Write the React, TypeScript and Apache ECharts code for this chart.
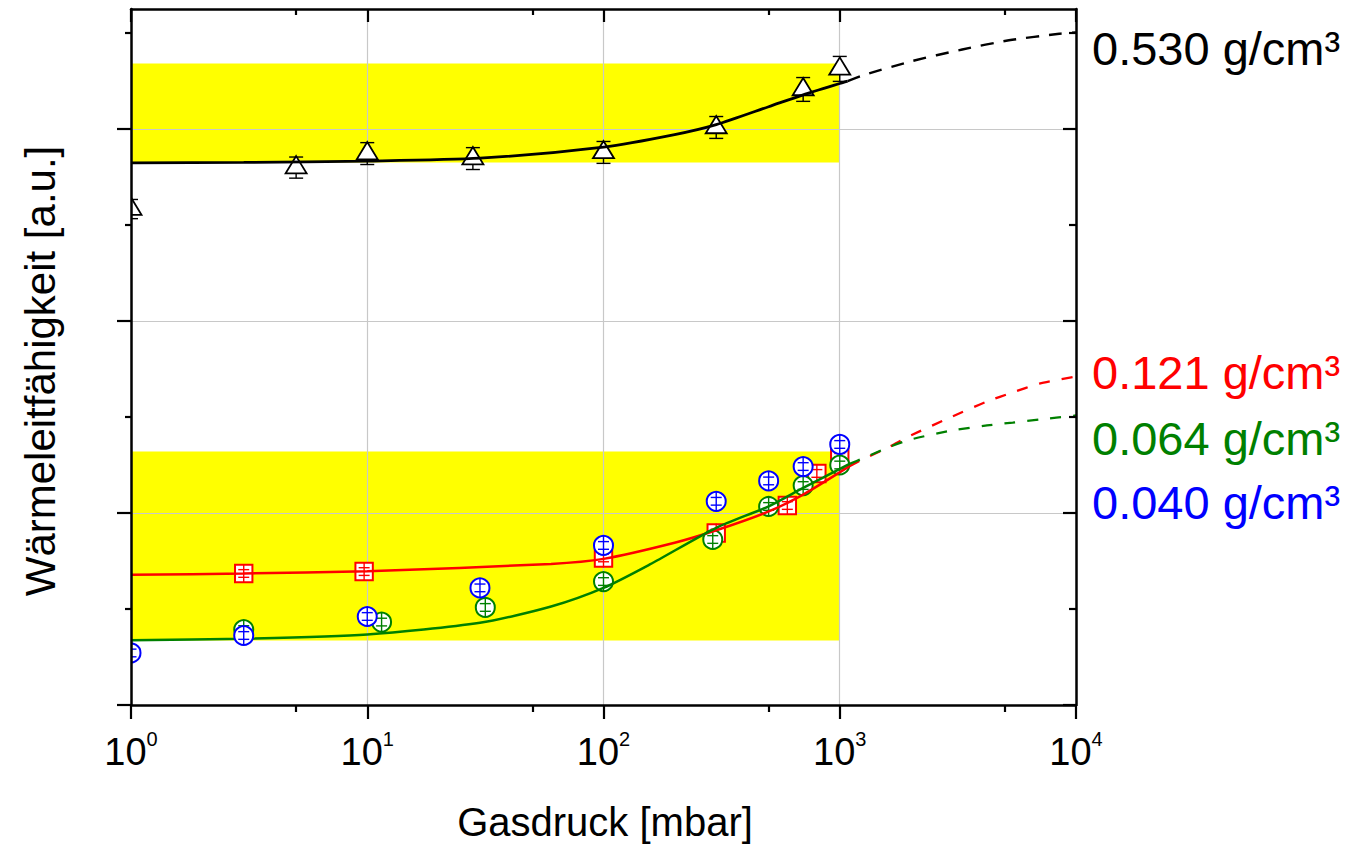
import React, { useEffect, useRef } from "react";
import * as echarts from "echarts";

const FONT = '"Liberation Sans", Arial, Helvetica, sans-serif';

// Measured thermal conductivity [a.u.] versus gas pressure [mbar], per density
const p530 = [1, 5, 10, 28, 100, 300, 700, 1000];
const k530 = [2.583, 2.799, 2.872, 2.846, 2.878, 3.008, 3.206, 3.313];
const e530 = [0.05, 0.055, 0.057, 0.057, 0.057, 0.057, 0.062, 0.065];

const p121 = [3, 9.7, 100, 300, 600, 800, 1000];
const k121 = [0.685, 0.695, 0.766, 0.896, 1.039, 1.206, 1.29];
const e121 = [0.02, 0.02, 0.02, 0.02, 0.02, 0.02, 0.02];

const p064 = [3, 11.5, 31.6, 100, 290, 500, 700, 1000];
const k064 = [0.393, 0.432, 0.508, 0.643, 0.862, 1.034, 1.143, 1.25];
const e064 = [0.02, 0.02, 0.02, 0.02, 0.02, 0.02, 0.02, 0.02];

const p040 = [1, 3, 10, 30, 100, 300, 500, 700, 1000];
const k040 = [0.271, 0.362, 0.461, 0.61, 0.831, 1.061, 1.167, 1.242, 1.357];
const e040 = [0.02, 0.02, 0.02, 0.02, 0.02, 0.02, 0.02, 0.02, 0.02];

// Fitted model curves (solid: measured range, dashed: extrapolation)
const fit530P = [1, 3, 10, 30, 100, 200, 300, 500, 700, 1000, 1080];
const fit530K = [2.824, 2.826, 2.833, 2.848, 2.906, 2.971, 3.023, 3.116, 3.178, 3.237, 3.249];
const ext530P = [1080, 1250, 2000, 3300, 5200, 8500, 10000];
const ext530K = [3.249, 3.279, 3.352, 3.414, 3.462, 3.496, 3.503];

const fit121P = [1, 3, 10, 60, 100, 200, 300, 500, 700, 1100];
const fit121K = [0.678, 0.685, 0.697, 0.735, 0.761, 0.845, 0.91, 1.008, 1.096, 1.244];
const ext121P = [1100, 1250, 1600, 2000, 3000, 4200, 5400, 7000, 10000];
const ext121K = [1.244, 1.279, 1.341, 1.404, 1.503, 1.581, 1.628, 1.674, 1.711];

const fit064P = [1, 3, 10, 30, 60, 100, 157, 300, 500, 700, 1100];
const fit064K = [0.3375, 0.345, 0.367, 0.428, 0.513, 0.61, 0.732, 0.923, 1.035, 1.131, 1.256];
const ext064P = [1100, 1250, 1600, 2000, 3000, 4200, 5400, 7000, 10000];
const ext064K = [1.256, 1.284, 1.341, 1.383, 1.43, 1.456, 1.471, 1.487, 1.508];

// Highlighted ranges between vacuum and 1 bar
const bandP = [1, 1000];
const band530 = [2.826, 3.341];
const bandLow = [0.336, 1.32];

// Axis extents and tick positions
const xMin = 1;
const xMax = 10000;
const xMinorTicks = [5, 50, 500, 5000];
const yMin = 0;
const yMax = 3.625;
const yMajorTicks = [0, 1, 2, 3];
const yMinorTicks = [0.5, 1.5, 2.5, 3.5];

const densityLabels = ["0.530 g/cm³", "0.121 g/cm³", "0.064 g/cm³", "0.040 g/cm³"];
const densityColors = ["#000000", "#ff0000", "#008000", "#0000ff"];
const densityLabelY = [48, 372, 438, 502];

const zip = (xs: number[], ys: number[]) => xs.map((x, i) => [x, ys[i]]);

type Shape = "triangle" | "square" | "circle";

function markerSeries(
  name: string,
  ps: number[],
  ks: number[],
  es: number[],
  color: string,
  shape: Shape,
  z: number
) {
  return {
    type: "custom",
    name,
    z,
    clip: true,
    silent: true,
    xAxisIndex: 0,
    yAxisIndex: 0,
    encode: { x: 0, y: 1 },
    data: ps.map((p, i) => [p, ks[i], es[i]]),
    renderItem: (_params: any, api: any) => {
      const x = api.value(0);
      const y = api.value(1);
      const e = api.value(2);
      const c = api.coord([x, y]);
      const top = api.coord([x, y + e]);
      const bot = api.coord([x, y - e]);
      const barStyle = { stroke: color, lineWidth: 1.4 };
      const children: any[] = [];
      if (shape === "triangle") {
        const cw = 7;
        children.push(
          { type: "line", shape: { x1: c[0], y1: top[1], x2: c[0], y2: bot[1] }, style: barStyle },
          { type: "line", shape: { x1: c[0] - cw, y1: top[1], x2: c[0] + cw, y2: top[1] }, style: barStyle },
          { type: "line", shape: { x1: c[0] - cw, y1: bot[1], x2: c[0] + cw, y2: bot[1] }, style: barStyle },
          {
            type: "polygon",
            shape: {
              points: [
                [c[0], c[1] - 11.5],
                [c[0] + 10.5, c[1] + 5.8],
                [c[0] - 10.5, c[1] + 5.8],
              ],
            },
            style: { fill: "#ffffff", stroke: color, lineWidth: 1.8 },
          }
        );
      } else {
        const r = 9.5;
        if (shape === "circle") {
          children.push({
            type: "circle",
            shape: { cx: c[0], cy: c[1], r },
            style: { fill: "#ffffff", stroke: color, lineWidth: 2 },
          });
        } else {
          children.push({
            type: "rect",
            shape: { x: c[0] - 8.7, y: c[1] - 8.7, width: 17.4, height: 17.4 },
            style: { fill: "#ffffff", stroke: color, lineWidth: 2 },
          });
        }
        const cw = 5.5;
        children.push(
          { type: "line", shape: { x1: c[0], y1: c[1] - r, x2: c[0], y2: c[1] + r }, style: barStyle },
          { type: "line", shape: { x1: c[0] - cw, y1: top[1], x2: c[0] + cw, y2: top[1] }, style: barStyle },
          { type: "line", shape: { x1: c[0] - cw, y1: bot[1], x2: c[0] + cw, y2: bot[1] }, style: barStyle }
        );
      }
      return { type: "group", children };
    },
  };
}

function curve(ps: number[], ks: number[], color: string, width: number, dashed: boolean, dash: number[]) {
  return {
    type: "line",
    xAxisIndex: 0,
    yAxisIndex: 0,
    data: zip(ps, ks),
    showSymbol: false,
    symbol: "none",
    smooth: 0.25,
    silent: true,
    z: 4,
    lineStyle: { color, width, type: dashed ? dash : "solid", cap: "butt" },
  };
}

const frameLine = { show: true, onZero: false, lineStyle: { color: "#000", width: 2.5 } };
const noLine = { show: false, onZero: false };

function xAux(position: "top" | "bottom", inside: boolean, length: number, showLine: boolean, custom?: number[]) {
  return {
    type: "log",
    logBase: 10,
    min: xMin,
    max: xMax,
    position,
    z: 10,
    axisLine: showLine ? frameLine : noLine,
    axisTick: {
      show: true,
      inside,
      length,
      lineStyle: { color: "#000", width: 2.2 },
      ...(custom ? { customValues: custom } : {}),
    },
    axisLabel: { show: false },
    splitLine: { show: false },
  };
}

function yAux(position: "left" | "right", inside: boolean, length: number, showLine: boolean, custom: number[]) {
  return {
    type: "value",
    min: yMin,
    max: yMax,
    interval: 1,
    position,
    z: 10,
    axisLine: showLine ? frameLine : noLine,
    axisTick: { show: true, inside, length, lineStyle: { color: "#000", width: 2.2 }, customValues: custom },
    axisLabel: { show: false },
    splitLine: { show: false },
  };
}

export default function App() {
  const ref = useRef<HTMLDivElement>(null);

  useEffect(() => {
    if (!ref.current) return;
    const chart = echarts.init(ref.current, undefined, { renderer: "svg" });

    const option: any = {
      animation: false,
      backgroundColor: "#ffffff",
      grid: { left: 131, right: 279, top: 9, bottom: 141, outerBoundsMode: "none" },
      xAxis: [
        {
          type: "log",
          logBase: 10,
          min: xMin,
          max: xMax,
          position: "bottom",
          z: 0,
          axisLine: noLine,
          axisTick: { show: false },
          splitLine: { show: true, lineStyle: { color: "#c8c8c8", width: 1.2 } },
          axisLabel: {
            show: true,
            margin: 24,
            formatter: (v: number) => `{b|10}{s|${Math.round(Math.log10(v))}}`,
            rich: {
              b: { fontFamily: FONT, fontSize: 38, lineHeight: 38, color: "#000", padding: [7, 0, 0, 0] },
              s: { fontFamily: FONT, fontSize: 20, lineHeight: 20, color: "#000", verticalAlign: "top" },
            },
          },
        },
        xAux("bottom", false, 14, true),
        xAux("bottom", false, 7, false, xMinorTicks),
        xAux("top", true, 13, true),
        xAux("top", true, 6, false, xMinorTicks),
      ],
      yAxis: [
        {
          type: "value",
          min: yMin,
          max: yMax,
          interval: 1,
          position: "left",
          z: 0,
          axisLine: noLine,
          axisTick: { show: false },
          axisLabel: { show: false },
          splitLine: { show: true, lineStyle: { color: "#c8c8c8", width: 1.2 } },
        },
        yAux("left", false, 14, true, yMajorTicks),
        yAux("left", false, 6, false, yMinorTicks),
        yAux("right", true, 13, true, yMajorTicks),
        yAux("right", true, 7, false, yMinorTicks),
      ],
      series: [
        {
          type: "custom",
          name: "Bereich",
          z: -1,
          silent: true,
          clip: true,
          xAxisIndex: 0,
          yAxisIndex: 0,
          encode: { x: [0, 1], y: [2, 3] },
          data: [
            [bandP[0], bandP[1], bandLow[0], bandLow[1]],
            [bandP[0], bandP[1], band530[0], band530[1]],
          ],
          renderItem: (_params: any, api: any) => {
            const a = api.coord([api.value(0), api.value(3)]);
            const b = api.coord([api.value(1), api.value(2)]);
            return {
              type: "rect",
              shape: { x: a[0], y: a[1], width: b[0] - a[0], height: b[1] - a[1] },
              style: { fill: "#ffff00" },
            };
          },
        },
        markerSeries("0.121 g/cm³", p121, k121, e121, "#ff0000", "square", 2),
        markerSeries("0.064 g/cm³", p064, k064, e064, "#008000", "circle", 3),
        markerSeries("0.530 g/cm³", p530, k530, e530, "#000000", "triangle", 3),
        curve(fit530P, fit530K, "#000000", 2.8, false, []),
        curve(ext530P, ext530K, "#000000", 2.4, true, [13, 10]),
        curve(fit121P, fit121K, "#ff0000", 2.5, false, []),
        curve(ext121P, ext121K, "#ff0000", 2.3, true, [11, 12]),
        curve(fit064P, fit064K, "#008000", 2.5, false, []),
        curve(ext064P, ext064K, "#008000", 2.3, true, [11, 12]),
        markerSeries("0.040 g/cm³", p040, k040, e040, "#0000ff", "circle", 5),
      ],
      graphic: [
        {
          type: "text",
          x: 605,
          y: 822,
          silent: true,
          style: {
            text: "Gasdruck [mbar]",
            fontFamily: FONT,
            fontSize: 40,
            fill: "#000",
            align: "center",
            verticalAlign: "middle",
          },
        },
        {
          type: "text",
          x: 40,
          y: 371,
          rotation: Math.PI / 2,
          silent: true,
          style: {
            text: "Wärmeleitfähigkeit [a.u.]",
            fontFamily: FONT,
            fontSize: 42,
            fill: "#000",
            align: "center",
            verticalAlign: "middle",
          },
        },
        ...densityLabels.map((t, i) => ({
          type: "text",
          x: 1092,
          y: densityLabelY[i],
          silent: true,
          style: {
            text: t,
            fontFamily: FONT,
            fontSize: 47,
            fill: densityColors[i],
            align: "left",
            verticalAlign: "middle",
          },
        })),
      ],
    };

    chart.setOption(option);
    return () => chart.dispose();
  }, []);

  return (
    <div
      ref={ref}
      style={{ position: "absolute", left: 0, top: 0, width: 1355, height: 846, background: "#fff" }}
    />
  );
}
